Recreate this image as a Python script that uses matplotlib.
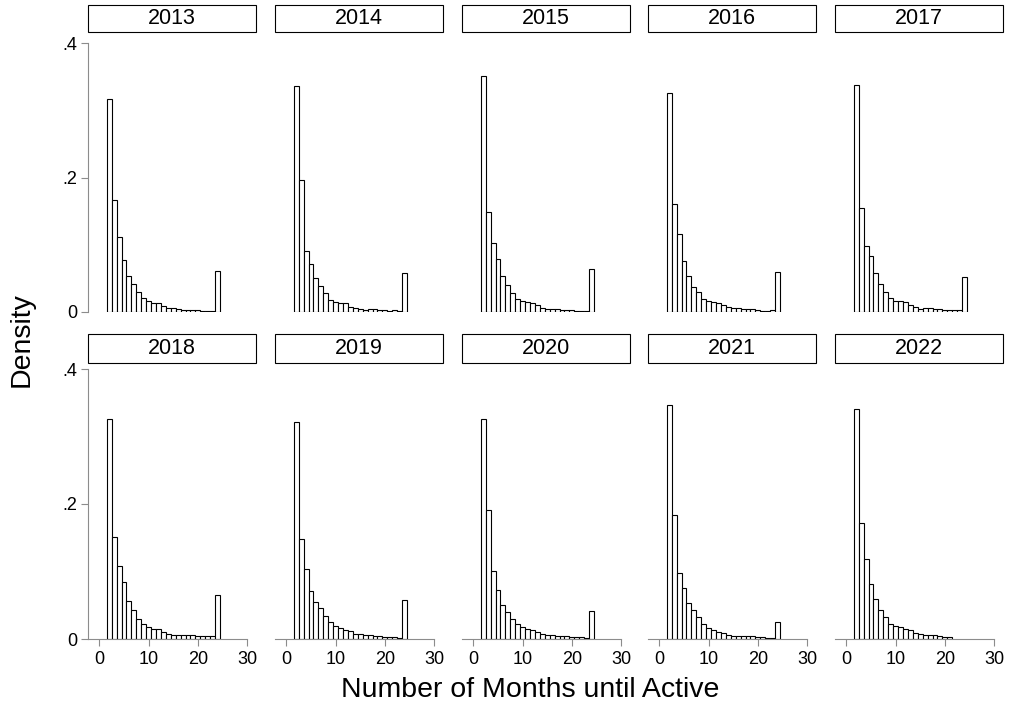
import matplotlib.pyplot as plt
from matplotlib.patches import Rectangle

plt.rcParams['font.family'] = ['Liberation Sans', 'DejaVu Sans']

# share of users by months until active, one list per signup year (months 2..)
density_2013 = [0.317, 0.167, 0.112, 0.077, 0.054, 0.042, 0.030, 0.021, 0.016, 0.014, 0.014, 0.0085,
                0.0055, 0.0065, 0.004, 0.0035, 0.0035, 0.003, 0.0025, 0.002, 0.0015, 0.001, 0.061]
density_2014 = [0.336, 0.196, 0.091, 0.071, 0.051, 0.038, 0.028, 0.018, 0.015, 0.013, 0.013, 0.008,
                0.006, 0.0045, 0.0035, 0.004, 0.0045, 0.003, 0.0025, 0.0015, 0.0025, 0.0015, 0.058]
density_2015 = [0.351, 0.149, 0.103, 0.079, 0.053, 0.040, 0.028, 0.019, 0.016, 0.015, 0.014, 0.010,
                0.006, 0.005, 0.005, 0.004, 0.0035, 0.003, 0.0025, 0.002, 0.0015, 0.0015, 0.064]
density_2016 = [0.326, 0.161, 0.116, 0.076, 0.054, 0.037, 0.030, 0.019, 0.017, 0.015, 0.014, 0.010,
                0.007, 0.0055, 0.0055, 0.005, 0.0045, 0.004, 0.003, 0.002, 0.002, 0.003, 0.059]
density_2017 = [0.338, 0.154, 0.098, 0.084, 0.058, 0.041, 0.030, 0.021, 0.017, 0.016, 0.015, 0.010,
                0.007, 0.0045, 0.0055, 0.0055, 0.0045, 0.004, 0.0025, 0.0025, 0.0025, 0.0025, 0.052]
density_2018 = [0.326, 0.151, 0.108, 0.085, 0.057, 0.043, 0.030, 0.022, 0.018, 0.015, 0.015, 0.0105,
                0.007, 0.006, 0.006, 0.006, 0.006, 0.0055, 0.005, 0.0045, 0.0045, 0.004, 0.065]
density_2019 = [0.321, 0.148, 0.103, 0.071, 0.055, 0.046, 0.034, 0.025, 0.019, 0.017, 0.014, 0.012,
                0.008, 0.0075, 0.0055, 0.0055, 0.005, 0.0045, 0.0035, 0.003, 0.0025, 0.002, 0.058]
density_2020 = [0.326, 0.191, 0.101, 0.073, 0.051, 0.040, 0.030, 0.022, 0.018, 0.015, 0.013, 0.010,
                0.0075, 0.0065, 0.0055, 0.005, 0.0045, 0.004, 0.0035, 0.003, 0.0025, 0.0015, 0.042]
density_2021 = [0.346, 0.183, 0.098, 0.075, 0.054, 0.043, 0.032, 0.022, 0.017, 0.014, 0.011, 0.0085,
                0.006, 0.005, 0.005, 0.0045, 0.004, 0.004, 0.0035, 0.003, 0.002, 0.002, 0.025]
density_2022 = [0.341, 0.172, 0.119, 0.082, 0.059, 0.043, 0.032, 0.022, 0.019, 0.018, 0.015, 0.013,
                0.0095, 0.0075, 0.006, 0.0055, 0.0055, 0.005, 0.0035, 0.0025]

years = [2013, 2014, 2015, 2016, 2017, 2018, 2019, 2020, 2021, 2022]
densities = [density_2013, density_2014, density_2015, density_2016, density_2017,
             density_2018, density_2019, density_2020, density_2021, density_2022]
first_month = 2

W, H = 1011, 711
fig = plt.figure(figsize=(W / 100, H / 100), dpi=100)

col_left = [88, 275, 462, 648, 835]
panel_w = 168
row_top = [43, 369]
row_bottom = [312, 639]
strip_top = [5, 334]
strip_bottom = [32, 363]
axis_grey = '#8c8c8c'

for i, (year, dens) in enumerate(zip(years, densities)):
    r, c = divmod(i, 5)
    left = col_left[c] / W
    bottom = 1 - row_bottom[r] / H
    height = (row_bottom[r] - row_top[r]) / H
    ax = fig.add_axes([left, bottom, panel_w / W, height])

    months = list(range(first_month, first_month + len(dens)))
    ax.bar(months, dens, width=1.0, color='white', edgecolor='black', linewidth=0.8)

    ax.set_xlim(-2.3, 31.8)
    ax.set_ylim(0, 0.4)
    for side in ['top', 'right']:
        ax.spines[side].set_visible(False)
    ax.spines['left'].set_color(axis_grey)
    ax.spines['bottom'].set_color(axis_grey)
    ax.spines['bottom'].set_bounds(-2.3, 30)
    ax.tick_params(colors=axis_grey, labelcolor='black', labelsize=13, length=5, width=0.8)

    if c == 0:
        ax.set_yticks([0, 0.2, 0.4])
        ax.set_yticklabels(['0', '.2', '.4'])
        ax.tick_params(axis='y', pad=3)
    else:
        ax.spines['left'].set_visible(False)
        ax.set_yticks([])

    if r == 1:
        ax.set_xticks([0, 10, 20, 30])
        ax.tick_params(axis='x', pad=4)
    else:
        ax.spines['bottom'].set_visible(False)
        ax.set_xticks([])

    # year header box above each panel
    sb = 1 - strip_bottom[r] / H
    sh = (strip_bottom[r] - strip_top[r]) / H
    fig.patches.append(Rectangle((left, sb), panel_w / W, sh, transform=fig.transFigure,
                                 facecolor='white', edgecolor='black', linewidth=0.8))
    fig.text(left + panel_w / W / 2, sb + sh / 2, str(year), ha='center', va='center',
             fontsize=15.5)

fig.text(530 / W, 1 - 690 / H, 'Number of Months until Active', ha='center', va='center',
         fontsize=20.5)
fig.text(22 / W, 1 - 340 / H, 'Density', ha='center', va='center', rotation=90,
         fontsize=20.5)

fig.savefig('out.png', dpi=100, facecolor='white')
